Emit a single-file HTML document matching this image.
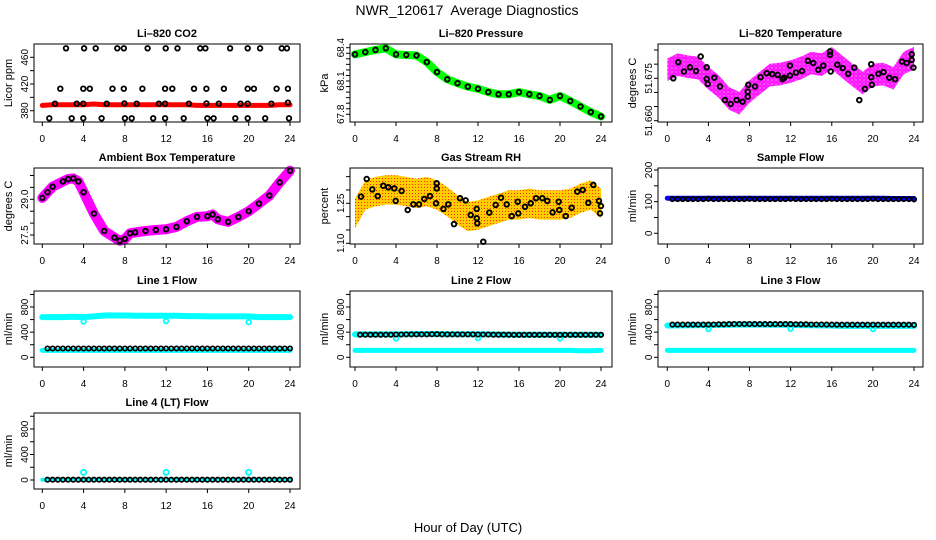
<!DOCTYPE html>
<html><head><meta charset="utf-8"><style>
html,body{margin:0;padding:0;background:#fff}
svg{display:block;font-family:"Liberation Sans",sans-serif}
</style></head><body>
<svg id="chart" width="936" height="540" viewBox="0 0 936 540" xmlns="http://www.w3.org/2000/svg">
<defs>
<pattern id="pinkDots" width="4" height="4" patternUnits="userSpaceOnUse"><rect width="4" height="4" fill="#ff66ff"/><circle cx="2" cy="2" r="1.3" fill="none" stroke="#ff00ff" stroke-width="1.2"/></pattern>
<pattern id="orangeDots" width="3" height="3" patternUnits="userSpaceOnUse"><rect width="3" height="3" fill="#ffcc00"/><rect x="1" y="1" width="1" height="1" fill="#ff3300"/></pattern>
</defs>
<rect width="936" height="540" fill="#fff"/>
<text x="467" y="15" text-anchor="middle" font-size="14" xml:space="preserve" style="white-space:pre">NWR_120617  Average Diagnostics</text>
<text x="468" y="532" text-anchor="middle" font-size="13">Hour of Day (UTC)</text>
</svg>
<script>
// ---------- data ----------
const hoursHourly = [0,1,2,3,4,5,6,7,8,9,10,11,12,13,14,15,16,17,18,19,20,21,22,23,24];
const xTicks = [0,4,8,12,16,20,24];

const co2Red = [388,389,389,389,389,390,389,389,389,389,389,389,389,389,389,388,388,388,388,388,388,388,388,389,389];
const co2Hours = [2.3,4.05,5.17,7.27,7.9,10.2,11.96,13.1,15.3,15.8,18.2,19.9,21.1,23.2,23.7,
 1.74,3.97,4.6,6.8,7.9,9.7,11.9,12.6,14.7,15.9,17.6,19.9,20.5,22.7,23.8,
 1.23,3.33,3.97,6.24,7.95,9.15,11.3,11.9,14.2,15.9,17.1,19.2,19.9,22.2,23.8,
 0.68,2.85,3.97,5.75,8.0,8.66,10.75,11.9,13.7,16.0,16.6,18.7,19.9,21.6,23.9];
const co2Vals = [473.5,473.5,473.5,473.5,473.5,473.5,473.5,473.5,473.5,473.5,473.5,473.5,473.5,473.5,473.5,
 413,413,413,413,413,413,413,413,413,413,413,413,413,413,413,
 390.5,390.5,390.5,390.5,391,390.5,390.5,390.5,390.5,391,390.5,390.5,390.5,390.5,392,
 368.6,368.6,368.6,368.6,368.6,368.6,368.6,368.6,368.6,368.6,368.6,368.6,368.6,368.6,368.6];

const presVals = [68.34,68.36,68.38,68.395,68.34,68.334,68.33,68.27,68.18,68.115,68.08,68.05,68.03,68.0,67.98,67.98,68.0,67.98,67.965,67.93,67.965,67.92,67.87,67.82,67.78];

const tempCenter = [51.6780,51.6798,51.6791,51.6786,51.6750,51.6721,51.6679,51.6662,51.6703,51.6733,51.6762,51.6765,51.6774,51.6786,51.6804,51.6798,51.6821,51.6791,51.6762,51.6733,51.6762,51.6765,51.6750,51.6804,51.6821];
const tempSpread = 0.0040;
const tempHours = [0.58,1.07,1.62,2.21,2.79,3.25,3.83,3.83,3.93,4.57,5.13,5.61,6.17,6.75,7.33,7.82,7.82,7.88,8.53,9.08,9.67,10.21,10.74,11.22,11.38,11.94,11.94,12.52,13.1,13.68,14.2,14.69,15.18,15.83,15.83,15.9,16.54,17.06,17.6,18.19,18.68,19.23,19.84,19.84,19.9,20.54,21.03,21.6,22.15,22.83,23.29,23.78,23.78,23.94];
const tempVals = [51.6750,51.6807,51.6774,51.6789,51.6776,51.6827,51.6789,51.6748,51.6730,51.6752,51.6721,51.6673,51.6659,51.6673,51.6667,51.6685,51.6703,51.6727,51.6721,51.6754,51.6768,51.6765,51.6762,51.6747,51.6752,51.6760,51.6795,51.6770,51.6776,51.6812,51.6804,51.6780,51.6795,51.6833,51.6845,51.6774,51.6798,51.6786,51.6766,51.6788,51.6673,51.6712,51.6800,51.6754,51.6727,51.6766,51.6772,51.6752,51.6747,51.6809,51.6804,51.6815,51.6835,51.6788];

const ambHours = [0,0.5,1,2,2.5,3,3.5,4,5,6,7,7.5,8,8.5,9,10,11,12,13,14,15,16,16.5,17,18,19,20,21,22,23,24];
const ambVals = [29.06,29.30,29.53,29.75,29.85,29.88,29.75,29.30,28.40,27.67,27.39,27.26,27.33,27.57,27.61,27.67,27.71,27.74,27.84,28.08,28.26,28.29,28.36,28.16,28.05,28.26,28.50,28.82,29.16,29.71,30.20];

const rhCenter = [1.212,1.281,1.294,1.300,1.300,1.294,1.287,1.294,1.281,1.256,1.225,1.200,1.206,1.219,1.231,1.244,1.244,1.250,1.244,1.244,1.244,1.250,1.269,1.281,1.250];
const rhSpread = 0.055;
const rhHours = [0.59,1.14,1.69,2.21,2.76,3.25,3.83,3.97,4.55,5.14,5.69,6.24,6.76,7.32,7.9,7.97,7.97,8.62,9.1,9.66,10.24,10.8,11.29,11.87,11.87,11.93,12.52,13.1,13.73,14.24,14.8,15.29,15.87,15.93,16.59,17.14,17.66,18.27,18.76,19.28,19.87,19.93,20.56,21.14,21.69,22.22,22.76,23.25,23.8,23.9,23.99];
const rhVals = [1.275,1.341,1.302,1.277,1.316,1.310,1.306,1.259,1.296,1.225,1.246,1.246,1.266,1.277,1.250,1.325,1.306,1.229,1.246,1.172,1.269,1.261,1.206,1.229,1.194,1.175,1.106,1.215,1.244,1.271,1.246,1.202,1.256,1.212,1.237,1.250,1.269,1.269,1.259,1.216,1.256,1.225,1.202,1.233,1.294,1.300,1.252,1.319,1.259,1.212,1.240];

const halfHours = [0.5,1,1.5,2,2.5,3,3.5,4,4.5,5,5.5,6,6.5,7,7.5,8,8.5,9,9.5,10,10.5,11,11.5,12,12.5,13,13.5,14,14.5,15,15.5,16,16.5,17,17.5,18,18.5,19,19.5,20,20.5,21,21.5,22,22.5,23,23.5,24];

const sampleBlue = [111,111,111,111,111,111,111,111,111,111,111,111,111,111,111,111,111,111,111,111,111,111,110,110,110];
const sampleBlack = [108,108,108,108,108,108,108,109,108,108,108,108,108,108,108,109,108,108,108,108,108,108,108,109,108,108,108,108,108,108,108,109,108,108,108,108,108,108,108,109,108,108,108,108,108,108,108,107];

const line1Upper = [640,640,640,645,640,650,665,665,665,660,660,660,660,660,655,655,650,650,650,650,650,640,640,640,640];
const line1Lower = [110,110,110,110,110,110,110,110,110,110,110,110,110,110,110,110,110,110,110,110,110,110,110,110,110];
const line1Black = [140,140,140,140,140,140,140,140,140,140,140,140,140,140,140,140,140,140,140,140,140,140,140,140,140,140,140,140,140,140,140,140,140,140,140,140,140,140,140,140,140,140,140,140,140,140,140,140];
const dipHours = [4,12,20];
const line1Dips = [570,575,560];

const line2Upper = [365,365,365,365,365,368,370,370,370,368,368,368,368,365,362,360,360,360,360,360,360,360,358,358,358];
const line2Lower = [110,110,110,110,110,110,110,110,110,110,110,110,110,110,110,110,110,110,110,110,110,110,105,105,110];
const line2Black = [360,360,360,360,360,360,360,362,362,365,365,365,365,365,368,368,365,365,365,365,365,365,365,362,362,362,360,360,360,360,358,358,358,358,358,358,358,358,358,358,358,358,358,358,358,358,358,358];
const line2Dips = [300,305,300];

const line3Upper = [505,508,510,512,512,515,518,520,520,520,518,518,518,512,510,508,505,500,500,500,500,500,500,500,500];
const line3Lower = [110,110,110,110,110,110,110,110,110,110,110,110,110,110,110,110,110,110,110,110,110,110,110,110,110];
const line3Black = [520,520,520,520,520,520,520,520,522,525,525,528,530,530,530,530,528,528,528,528,528,528,528,528,525,525,525,522,522,522,520,520,518,518,518,518,518,518,518,518,518,518,518,518,518,518,518,515];
const line3Dips = [450,455,450];

const line4Cyan = [5,5,5,5,5,5,5,5,5,5,5,5,5,5,5,5,5,5,5,5,5,5,5,5,5];
const line4Black = [5,5,5,5,5,5,5,5,5,5,5,5,5,5,5,5,5,5,5,5,5,5,5,5,5,5,5,5,5,5,5,5,5,5,5,5,5,5,5,5,5,5,5,5,5,5,5,5];
const line4Spikes = [120,120,120];

// ---------- layout ----------
const svg = document.getElementById('chart');
const NS = 'http://www.w3.org/2000/svg';
const cols = [{L:34,R:300,x0:42.3,x24:290},{L:350,R:612,x0:355,x24:601},{L:658,R:923,x0:667.3,x24:914}];
const rows = [{T:44,B:122},{T:168,B:244},{T:291,B:367},{T:413,B:489}];

function mk(tag, attrs, parent){
  const e = document.createElementNS(NS, tag);
  for (const k in attrs) e.setAttribute(k, attrs[k]);
  (parent || svg).appendChild(e);
  return e;
}

function makePanel(ci, ri, title, ylab, yv1, yp1, yv2, yp2, yTicks, yLabels, key){
  const c = cols[ci], r = rows[ri];
  const g = mk('g', {});
  
  
  const p = {g, c, r,
    sx: h => c.x0 + h * (c.x24 - c.x0) / 24,
    sy: v => yp1 + (v - yv1) * (yp2 - yp1) / (yv2 - yv1)};
  const t = mk('text', {x:(c.L+c.R)/2, y:r.T-7, 'text-anchor':'middle', 'font-size':11, 'font-weight':'bold'}, g);
  t.textContent = title;
  
  
  const yl = mk('text', {x:c.L-22, y:(r.T+r.B)/2, 'text-anchor':'middle', 'font-size':11, transform:`rotate(-90 ${c.L-22} ${(r.T+r.B)/2})`}, g);
  yl.textContent = ylab;
  
  
  p.plot = mk('g', {}, g);
  
  
  p.axes = mk('g', {stroke:'#000', 'stroke-width':1}, g);
  
  
  const box = mk('rect', {x:c.L, y:r.T, width:c.R-c.L, height:r.B-r.T, fill:'none'}, p.axes);
  
  
  xTicks.forEach(h => {
    const x = p.sx(h);
    mk('line', {x1:x, x2:x, y1:r.B, y2:r.B+4}, p.axes);
    const tl = mk('text', {x:x, y:r.B+20, 'text-anchor':'middle', 'font-size':10, stroke:'none'}, g);
    tl.textContent = h;
    
    
  });
  yTicks.forEach(v => {
    const y = p.sy(v);
    mk('line', {x1:c.L-4, x2:c.L, y1:y, y2:y}, p.axes);
  });
  yLabels.forEach(v => {
    const y = p.sy(v);
    const lt = mk('text', {x:c.L-6, y:y, 'text-anchor':'middle', 'font-size':10, transform:`rotate(-90 ${c.L-6} ${y})`}, g);
    lt.textContent = v;
    
    
  });
  return p;
}

function line(p, hs, vs, color, w, name){
  const pts = hs.map((h,i) => p.sx(h).toFixed(1) + ',' + p.sy(vs[i]).toFixed(1)).join(' ');
  const e = mk('polyline', {points:pts, fill:'none', stroke:color, 'stroke-width':w, 'stroke-linejoin':'round', 'stroke-linecap':'round'}, p.plot);
  
  
}
function band(p, hs, center, spread, fill, name){
  const up = hs.map((h,i) => p.sx(h).toFixed(1) + ',' + p.sy(center[i] + spread).toFixed(1));
  const dn = hs.map((h,i) => p.sx(h).toFixed(1) + ',' + p.sy(center[i] - spread).toFixed(1)).reverse();
  const e = mk('polygon', {points: up.concat(dn).join(' '), fill:fill, stroke:'none'}, p.plot);
  
  
}
function points(p, hs, vs, color, r, sw, name){
  const g = mk('g', {fill:'none', stroke:color, 'stroke-width':sw}, p.plot);
  
  
  hs.forEach((h,i) => {
    const c = mk('circle', {cx:p.sx(h).toFixed(1), cy:p.sy(vs[i]).toFixed(1), r:r}, g);
    
    
  });
}

const flowTicks = [0,200,400,600,800,1000];
const flowLabels = [0,400,800];

// Li-820 CO2
let p = makePanel(0,0,'Li–820 CO2','Licor ppm',460,57.3,380,110.7,[380,400,420,440,460],[380,420,460],'co2');
line(p, hoursHourly, co2Red, '#ff0000', 5, 'co2-raw-series');
points(p, co2Hours, co2Vals, '#000', 2.3, 1.8, 'co2-average-series');

// Li-820 Pressure
p = makePanel(1,0,'Li–820 Pressure','kPa',68.4,47.7,67.8,114.3,[67.8,67.85,67.9,67.95,68.0,68.05,68.1,68.15,68.2,68.25,68.3,68.35,68.4],[67.8,68.1,68.4],'pressure');
line(p, hoursHourly, presVals, '#00ff00', 8, 'pressure-raw-series');
points(p, hoursHourly, presVals, '#000', 2.3, 1.9, 'pressure-average-series');

// Li-820 Temperature
p = makePanel(2,0,'Li–820 Temperature','degrees C',51.660,120.7,51.675,78.3,[51.660,51.665,51.670,51.675,51.680,51.685],['51.660','51.675'],'temperature');
band(p, hoursHourly, tempCenter, tempSpread, 'url(#pinkDots)', 'temperature-raw-series');
points(p, tempHours, tempVals, '#000', 2.3, 1.9, 'temperature-average-series');

// Ambient Box Temperature
p = makePanel(0,1,'Ambient Box Temperature','degrees C',27.5,235,29.0,199.3,[27.5,28.0,28.5,29.0,29.5,30.0],['27.5','29.0'],'ambient');
line(p, ambHours, ambVals, '#ff00ff', 10, 'ambient-raw-series');
points(p, ambHours, ambVals, '#000', 2.3, 1.9, 'ambient-average-series');

// Gas Stream RH
p = makePanel(1,1,'Gas Stream RH','percent',1.10,243.3,1.25,203.3,[1.10,1.15,1.20,1.25,1.30,1.35],['1.10','1.25'],'rh');
band(p, hoursHourly, rhCenter, rhSpread, 'url(#orangeDots)', 'rh-raw-series');
points(p, rhHours, rhVals, '#000', 2.3, 1.9, 'rh-average-series');

// Sample Flow
p = makePanel(2,1,'Sample Flow','ml/min',0,233.3,200,170,[0,50,100,150,200],[0,100,200],'sample-flow');
line(p, hoursHourly, sampleBlue, '#0000ff', 5, 'sample-flow-raw-series');
points(p, halfHours, sampleBlack, '#000', 2.2, 1.7, 'sample-flow-average-series');

// Line 1 Flow
p = makePanel(0,2,'Line 1 Flow','ml/min',0,357.3,800,307,flowTicks,flowLabels,'line1-flow');
line(p, hoursHourly, line1Upper, '#00ffff', 6, 'line1-flow-upper-series');
line(p, hoursHourly, line1Lower, '#00ffff', 5, 'line1-flow-lower-series');
points(p, dipHours, line1Dips, '#00ffff', 2.3, 1.8, 'line1-flow-dips');
points(p, halfHours, line1Black, '#000', 2.2, 1.7, 'line1-flow-average-series');

// Line 2 Flow
p = makePanel(1,2,'Line 2 Flow','ml/min',0,357.3,800,307,flowTicks,flowLabels,'line2-flow');
line(p, hoursHourly, line2Upper, '#00ffff', 6, 'line2-flow-upper-series');
line(p, hoursHourly, line2Lower, '#00ffff', 5, 'line2-flow-lower-series');
points(p, dipHours, line2Dips, '#00ffff', 2.3, 1.8, 'line2-flow-dips');
points(p, halfHours, line2Black, '#000', 2.2, 1.7, 'line2-flow-average-series');

// Line 3 Flow
p = makePanel(2,2,'Line 3 Flow','ml/min',0,357.3,800,307,flowTicks,flowLabels,'line3-flow');
line(p, hoursHourly, line3Upper, '#00ffff', 6, 'line3-flow-upper-series');
line(p, hoursHourly, line3Lower, '#00ffff', 5, 'line3-flow-lower-series');
points(p, dipHours, line3Dips, '#00ffff', 2.3, 1.8, 'line3-flow-dips');
points(p, halfHours, line3Black, '#000', 2.2, 1.7, 'line3-flow-average-series');

// Line 4 (LT) Flow
p = makePanel(0,3,'Line 4 (LT) Flow','ml/min',0,480,800,429,flowTicks,flowLabels,'line4-flow');
line(p, hoursHourly, line4Cyan, '#00ffff', 4, 'line4-flow-raw-series');
points(p, dipHours, line4Spikes, '#00ffff', 2.6, 1.9, 'line4-flow-spikes');
points(p, halfHours, line4Black, '#000', 2.2, 1.7, 'line4-flow-average-series');
</script>
</body></html>
